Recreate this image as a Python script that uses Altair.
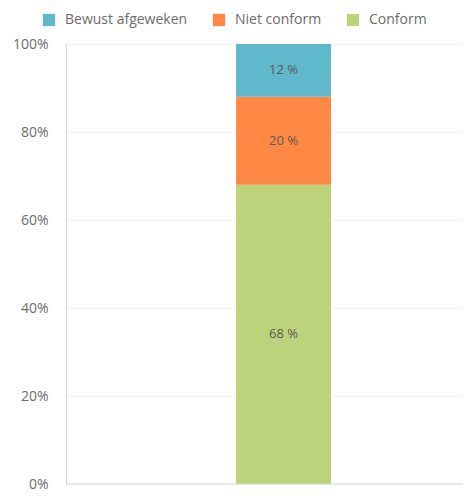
import altair as alt
import pandas as pd

categories = ["Conform", "Niet conform", "Bewust afgeweken"]
values = [68, 20, 12]
colors = ["#bdd37b", "#ff8845", "#60b8cd"]
legend_order = ["Bewust afgeweken", "Niet conform", "Conform"]
stack_order = [1, 2, 3]
y_ticks = [0, 20, 40, 60, 80, 100]

df = pd.DataFrame({
    "group": ["A"] * len(categories),
    "cat": categories,
    "value": values,
    "order": stack_order,
    "label": [f"{v} %" for v in values],
})

FONT = "Open Sans"

base = alt.Chart(df).encode(
    x=alt.X("group:N", axis=None,
            scale=alt.Scale(paddingInner=0, paddingOuter=1, align=0.572)),
)

bars = base.mark_bar(size=95).encode(
    y=alt.Y("value:Q", stack="zero",
            scale=alt.Scale(domain=[0, 100], nice=False),
            axis=alt.Axis(values=y_ticks, labelExpr="datum.value + '%'",
                          title=None, ticks=False, domain=True,
                          domainColor="#d6d6d6", labelColor="#6b6b6b",
                          labelFont=FONT, labelFontSize=14, labelPadding=18,
                          grid=True, gridColor="#d0d0d0", gridDash=[1, 3])),
    color=alt.Color("cat:N",
                    scale=alt.Scale(domain=categories, range=colors),
                    sort=legend_order,
                    legend=alt.Legend(title=None, orient="none", direction="horizontal",
                                      legendX=-24, legendY=-31,
                                      symbolType="square", symbolSize=150,
                                      symbolStrokeWidth=0, symbolOpacity=1,
                                      labelFont=FONT, labelFontSize=14,
                                      labelColor="#6b6b6b", labelOffset=9,
                                      columnPadding=24, values=legend_order)),
    order=alt.Order("order:Q"),
)

texts = base.mark_text(font=FONT, fontSize=13, color="#5a5a5a").encode(
    y=alt.Y("mid:Q"),
    text="label:N",
).transform_stack(
    stack="value", groupby=["group"], as_=["lo", "hi"], sort=[alt.SortField("order")]
).transform_calculate(mid="(datum.lo + datum.hi) / 2")

bottom = alt.Chart(pd.DataFrame({"v": [0]})).mark_rule(color="#d6d6d6").encode(
    y="v:Q"
)

chart = alt.layer(bars, texts, bottom).properties(
    width=397, height=440,
    autosize=alt.AutoSizeParams(type="none"),
    padding={"left": 58, "top": 36, "right": 0, "bottom": 8},
).configure_view(stroke=None)

chart.save("out.html", embed_options={"renderer": "svg", "actions": False})
